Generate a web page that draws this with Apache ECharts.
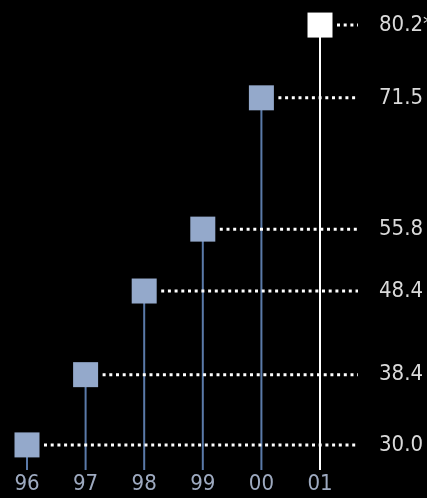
<!DOCTYPE html>
<html>
<head>
<meta charset="utf-8">
<script src="https://cdn.jsdelivr.net/npm/echarts@6/dist/echarts.min.js"></script>
<style>
  html, body { margin: 0; padding: 0; background: #000; }
  #chart { width: 427px; height: 498px; }
</style>
</head>
<body>
<div id="chart"></div>
<script>
// 年份和数值
const years = ['96', '97', '98', '99', '00', '01']
const values = [30.0, 38.4, 48.4, 55.8, 71.5, 80.2]
const valueLabels = ['30.0', '38.4', '48.4', '55.8', '71.5', '80.2*']
// 最后一年是估计值，白色显示
const highlight = [false, false, false, false, false, true]

const yMin = 27
const yMax = 82
const fontStack = "'DejaVu Sans Condensed', 'Liberation Sans Narrow', Roboto, sans-serif"

const myChart = echarts.init(document.querySelector('#chart'))

function renderItem(params, api) {
  const idx = api.value(0)
  const v = api.value(1)
  const p = api.coord([idx, v])
  const base = api.coord([idx, yMin])
  const hi = highlight[params.dataIndex]
  return {
    type: 'group',
    children: [
      {
        type: 'line',
        z2: 0,
        shape: { x1: p[0], y1: base[1], x2: p[0], y2: p[1] },
        style: { stroke: hi ? '#ffffff' : '#5a7aa9', lineWidth: 2 }
      },
      {
        type: 'line',
        z2: 1,
        shape: { x1: p[0] + 17, y1: p[1], x2: 358, y2: p[1] },
        style: { stroke: '#ffffff', lineWidth: 3, lineDash: [3, 3.7] }
      },
      {
        type: 'rect',
        z2: 2,
        shape: { x: p[0] - 12.5, y: p[1] - 12.5, width: 25, height: 25 },
        style: { fill: hi ? '#ffffff' : '#94a9cb' }
      },
      {
        type: 'text',
        z2: 2,
        x: 379,
        y: p[1],
        style: {
          text: valueLabels[params.dataIndex],
          fill: '#dadada',
          font: '22px ' + fontStack,
          verticalAlign: 'middle',
          align: 'left'
        }
      }
    ]
  }
}

const option = {
  backgroundColor: '#000',
  animation: false,
  grid: {
    left: 27,
    right: 107,
    top: 10,
    bottom: 28
  },
  xAxis: {
    type: 'category',
    boundaryGap: false,
    data: years,
    axisLine: { show: false },
    axisTick: { show: false },
    axisLabel: {
      color: '#9eaac0',
      fontSize: 22,
      fontFamily: fontStack,
      margin: 3
    }
  },
  yAxis: {
    type: 'value',
    min: yMin,
    max: yMax,
    show: false
  },
  series: [
    {
      type: 'custom',
      renderItem: renderItem,
      data: values.map((v, i) => [i, v])
    }
  ]
}

myChart.setOption(option)
</script>
</body>
</html>
